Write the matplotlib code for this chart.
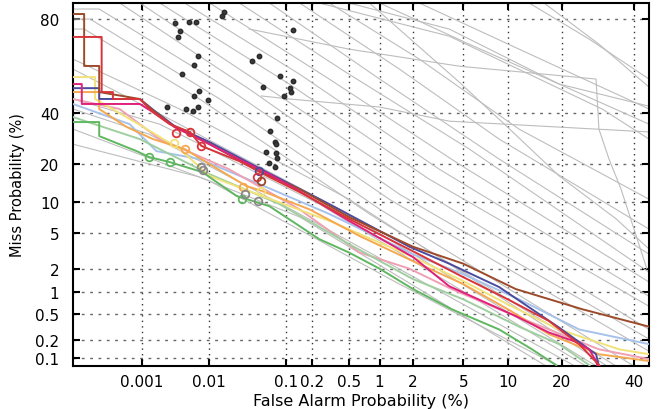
import math
from statistics import NormalDist
import matplotlib
matplotlib.use("Agg")
import matplotlib.pyplot as plt
import numpy as np

plt.rcParams['font.family'] = ['DejaVu Sans']

# DET curves: false alarm (%) and miss (%) pairs
colored = {
    'brown': ([7e-5, 1.1e-4, 1.1e-4, 2e-4, 2e-4, 9.3e-4, 1.3e-3, 3.2e-3, 0.0103, 0.047, 0.145, 0.5, 2.0, 5.0, 11.2, 25, 44.8],
              [81.6, 81.6, 61.7, 61.7, 49.8, 46.6, 42.9, 34.1, 27.1, 17.8, 12.9, 7.3, 3.6, 2.3, 1.1, 0.58, 0.32]),
    'red': ([7e-5, 2.2e-4, 2.2e-4, 3.4e-4, 3.4e-4, 9.3e-4, 1.5e-3, 2.7e-3, 5.4e-3, 7.9e-3, 0.026, 0.063, 0.145, 0.5, 2.0, 5.0, 10, 17.2, 24.2, 29.5, 32.4],
            [73.7, 73.7, 49.8, 49.8, 46.6, 46.6, 40.6, 35.3, 32.0, 26.4, 21.0, 16.1, 12.2, 7.0, 3.2, 1.57, 0.8, 0.39, 0.17, 0.076, 0.043]),
    'magenta': ([7e-5, 1.0e-4, 1.0e-4, 9.3e-4, 1.5e-3, 3.2e-3, 7.4e-3, 0.0226, 0.063, 0.145, 0.5, 2.0, 3.93, 11.2, 17.2, 22.9, 26.8, 28.7, 30.1],
                [53.5, 53.5, 44.3, 44.3, 40.6, 34.1, 29.1, 22.4, 16.9, 12.4, 6.7, 2.75, 1.2, 0.46, 0.26, 0.19, 0.14, 0.089, 0.043]),
    'blue': ([7e-5, 2e-4, 2e-4, 9.3e-4, 1.6e-3, 3.2e-3, 0.0103, 0.05, 0.31, 1.86, 3.93, 8.82, 19.4, 28.7, 30.4],
             [51.6, 51.6, 46.6, 46.6, 41.1, 34.5, 27.9, 18.4, 9.6, 3.6, 2.3, 1.17, 0.31, 0.116, 0.043]),
    'orange': ([7e-5, 2e-4, 2e-4, 5.7e-4, 1.5e-3, 4.5e-3, 0.0114, 0.032, 0.052, 0.188, 0.64, 2.0, 5.0, 10, 17.2, 29.5, 44.8],
               [49.8, 49.8, 42.0, 34.1, 29.1, 25.3, 19.4, 13.7, 12.4, 8.6, 4.7, 2.46, 1.28, 0.58, 0.245, 0.116, 0.089]),
    'yellow': ([7e-5, 1.7e-4, 1.7e-4, 1.0e-3, 3.8e-3, 0.0103, 0.035, 0.31, 2.0, 5.0, 10, 19.4, 35.4, 44.8],
               [56.7, 56.7, 46.6, 34.5, 25.3, 16.4, 12.4, 6.7, 2.75, 1.4, 0.68, 0.29, 0.14, 0.116]),
    'green': ([7e-5, 2e-4, 2e-4, 8.3e-4, 1.3e-3, 2.7e-3, 8.2e-3, 0.024, 0.063, 0.242, 0.5, 1.0, 2.0, 4.1, 8.82, 13.9, 18.7, 20.5],
              [36.2, 36.2, 30.3, 24.5, 22.4, 20.7, 17.5, 11.3, 9.2, 4.35, 3.1, 2.0, 1.1, 0.58, 0.29, 0.14, 0.076, 0.043]),
    'lightgreen': ([7e-5, 9.3e-4, 0.0103, 0.084, 0.5, 2.0, 5.0, 11.7, 19.4, 26.8, 29.5],
                   [38.4, 29.1, 16.9, 9.6, 3.85, 1.48, 0.8, 0.32, 0.17, 0.076, 0.043]),
    'pink': ([7e-5, 4.4e-4, 1.9e-3, 0.019, 0.145, 0.64, 1.86, 4.1, 8.82, 17.2, 29.5, 44.8],
             [46.6, 42.0, 29.1, 18.4, 8.6, 3.1, 2.0, 1.1, 0.58, 0.29, 0.14, 0.096]),
    'lightblue': ([7e-5, 6.4e-4, 1.7e-3, 7.4e-3, 0.047, 0.31, 2.0, 5.0, 11.7, 24.2, 44.8],
                  [44.3, 35.3, 24.5, 21.7, 14.2, 7.8, 2.97, 1.71, 0.8, 0.29, 0.17]),
}
line_colors = {
    'brown': '#9c4a2a', 'red': '#d8343a', 'magenta': '#e0207a', 'blue': '#4b4b9e',
    'orange': '#f4a850', 'yellow': '#f2e27a', 'green': '#5fb760', 'lightgreen': '#9fcf9f',
    'pink': '#f0a0b4', 'lightblue': '#a6c2ea',
}

gray = [
    ([13.4, 26.8, 44.8], [84.8, 72.9, 55.8]),
    ([16.2, 29.5, 44.8], [84.8, 70.9, 52.1]),
    ([2.26, 11.7, 44.8], [84.8, 68.9, 42.0]),
    ([1.0, 5.52, 19.4, 44.8], [84.8, 70.9, 53.5, 35.3]),
    ([0.035, 0.5, 4.67, 28.7, 29.5, 32.4, 36.0, 44.1], [76.6, 68.9, 61.6, 55.8, 33.2, 21.7, 12.9, 2.0]),
    ([0.05, 0.11, 1.0, 3.93, 15.2, 44.8], [48.0, 46.6, 42.9, 36.6, 34.5, 32.0]),
    ([0.8, 4.67, 9.8, 19.4, 34.5, 44.8], [84.8, 54.4, 34.5, 16.4, 7.0, 3.4]),
    ([0.31, 2.26, 11.7, 44.8], [84.8, 64.7, 33.2, 10.6]),
    ([0.145, 1.52, 8.82, 44.8], [84.8, 60.3, 29.1, 5.54]),
    ([0.063, 1.0, 8.82, 44.8], [84.8, 55.8, 21.7, 2.97]),
    ([0.026, 0.5, 5.52, 44.8], [84.8, 58.0, 25.3, 1.81]),
    ([0.0103, 0.31, 4.67, 44.8], [84.8, 55.8, 20.0, 1.36]),
    ([4.5e-3, 0.145, 3.29, 44.8], [84.8, 58.0, 18.4, 0.88]),
    ([1.9e-3, 0.11, 2.73, 44.8], [84.8, 53.5, 15.5, 0.64]),
    ([9.3e-4, 0.063, 2.26, 44.8], [84.8, 51.2, 12.9, 0.29]),
    ([4.4e-4, 0.035, 1.52, 44.8], [84.8, 51.2, 11.7, 0.205]),
    ([7e-5, 2e-4, 0.019, 1.23, 44.8], [83.1, 83.1, 51.2, 10.6, 0.13]),
    ([7e-5, 1.4e-4, 0.0142, 1.0, 41.6], [80.0, 80.0, 46.6, 8.64, 0.064]),
    ([7e-5, 1.1e-4, 7.4e-3, 0.8, 38.4], [76.6, 76.6, 46.6, 7.8, 0.053]),
    ([7e-5, 3.8e-3, 0.5, 35.4], [64.7, 42.0, 10.6, 0.053]),
    ([7e-5, 2.7e-3, 0.4, 32.4], [60.3, 37.5, 8.64, 0.053]),
    ([7e-5, 1.9e-3, 0.242, 29.5], [46.6, 35.3, 9.6, 0.053]),
    ([7e-5, 1.3e-3, 0.145, 26.8], [42.0, 31.1, 7.8, 0.053]),
    ([7e-5, 0.0103, 1.52, 22.9], [33.2, 15.0, 1.28, 0.053]),
    ([7e-5, 7.4e-3, 0.145, 2.26, 19.4], [27.1, 16.1, 7.3, 1.1, 0.053]),
    ([0.5, 3.93, 19.4, 44.8], [84.8, 76.6, 53.5, 43.3]),
    ([0.242, 3.93, 13.4, 30.4, 44.8], [84.8, 74.0, 58.0, 42.0, 29.1]),
]

dots_fa = [0.0165, 0.0151, 0.0033, 0.0052, 0.0065, 0.0038, 0.0036, 0.0070, 0.0376, 0.047, 0.0061, 0.0042,
           0.053, 0.0072, 0.0061, 0.0097, 0.0025, 0.0048, 0.0059, 0.0070, 0.12, 0.086, 0.12, 0.113, 0.116,
           0.094, 0.079, 0.065, 0.073, 0.077, 0.058, 0.077, 0.079, 0.063, 0.073]
dots_miss = [82.2, 80.9, 78.7, 79.0, 79.0, 75.9, 73.7, 66.0, 63.8, 66.0, 62.1, 58.0,
             52.1, 50.2, 47.9, 46.1, 42.9, 42.0, 41.1, 42.9, 76.2, 57.1, 54.9, 51.6, 49.8,
             47.9, 37.9, 32.4, 27.9, 27.1, 24.2, 23.8, 22.0, 20.4, 19.1]

circ_fa = [1.3e-3, 2.7e-3, 0.028, 3.4e-3, 5.4e-3, 7.9e-3, 3.1e-3, 4.5e-3, 7.9e-3, 8.2e-3, 0.029,
           0.031, 0.045, 0.05, 0.047, 0.044, 0.05]
circ_miss = [22.4, 20.7, 10.6, 31.5, 32.0, 26.4, 27.5, 25.3, 19.1, 18.1, 13.4, 11.7, 10.2, 12.4, 17.8, 16.1, 15.0]
circ_col = ['green', 'green', 'green', 'red', 'red', 'red', 'yellow', 'orange', 'gray', 'gray', 'orange',
            'gray', 'gray', 'yellow', 'blue', 'red', 'brown']

xticks = [0.001, 0.01, 0.1, 0.2, 0.5, 1, 2, 5, 10, 20, 40]
xlabels = ['0.001', '0.01', '0.1', '0.2', '0.5', '1', '2', '5', '10', '20', '40']
yticks = [0.1, 0.2, 0.5, 1, 2, 5, 10, 20, 40, 80]
ylabels = ['0.1', '0.2', '0.5', '1', '2', '5', '10', '20', '40', '80']

nd = NormalDist()
ppf = np.vectorize(lambda p: nd.inv_cdf(min(max(p, 1e-12), 1 - 1e-12)) if p == p else np.nan, otypes=[float])
erf = np.vectorize(math.erf, otypes=[float])


def fwd(p):
    return ppf(np.asarray(p, float) / 100.0)


def inv(z):
    return 50.0 * (1 + erf(np.asarray(z, float) / math.sqrt(2)))


fig = plt.figure(figsize=(6.58, 4.10), dpi=100)
ax = fig.add_axes([73 / 658, 43 / 410, 576 / 658, 363 / 410])
ax.set_xscale('function', functions=(fwd, inv))
ax.set_yscale('function', functions=(fwd, inv))

for fa, miss in gray:
    ax.plot(fa, miss, color='#bdbdbd', lw=0.8, zorder=2)

order = ['lightblue', 'pink', 'lightgreen', 'yellow', 'orange', 'green', 'blue', 'brown', 'magenta', 'red']
for name in order:
    fa, miss = colored[name]
    ax.plot(fa, miss, color=line_colors[name], lw=1.4, zorder=3)

ax.plot(dots_fa, dots_miss, 'o', color='#3a3a3a', ms=3.2, mec='#2a2a2a', zorder=4)
for f, m, c in zip(circ_fa, circ_miss, circ_col):
    ec = '#888888' if c == 'gray' else line_colors[c]
    ax.plot(f, m, 'o', mfc='none', mec=ec, mew=1.3, ms=5.5, zorder=5)

ax.set_xlim(7e-5, 44.8)
ax.set_ylim(0.073, 84.8)
ax.set_xticks(xticks)
ax.set_xticklabels(xlabels)
ax.set_yticks(yticks)
ax.set_yticklabels(ylabels)
ax.minorticks_off()
ax.tick_params(direction='in', length=5, width=1.5, top=True, right=True, labelsize=11)
ax.tick_params(axis='x', pad=6)
ax.tick_params(axis='y', pad=10)

ax.xaxis.grid(True, color='#333333', ls=(0, (1, 3)), lw=1.0)
ax.yaxis.grid(True, color='#666666', ls=(0, (2, 4)), lw=1.0)
for s in ax.spines.values():
    s.set_linewidth(1.5)

ax.set_xlabel('False Alarm Probability (%)', fontsize=11.5, labelpad=3)
ax.set_ylabel('Miss Probability (%)', fontsize=10.5, labelpad=7)

fig.savefig('out.png', dpi=100)
